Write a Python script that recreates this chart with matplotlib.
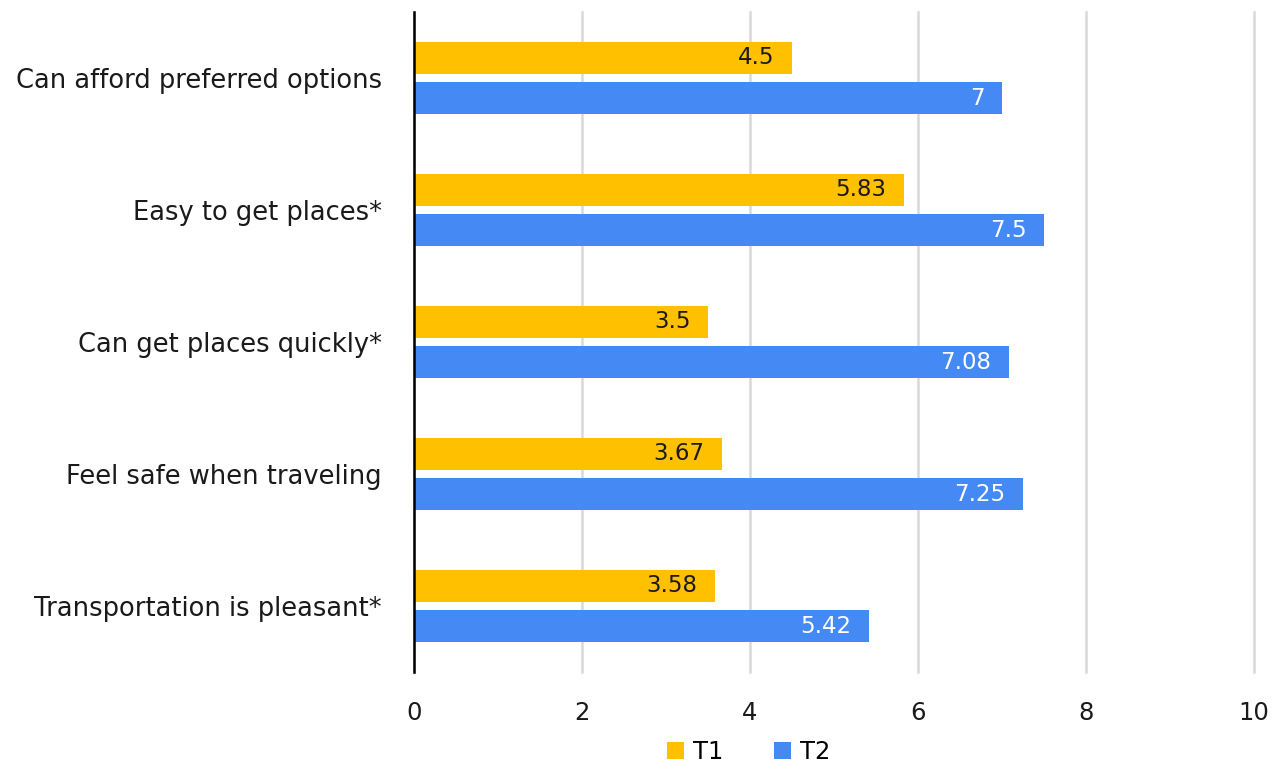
import matplotlib.pyplot as plt
import numpy as np

plt.rcParams['font.family'] = ['DejaVu Sans']

categories = [
    "Can afford preferred options",
    "Easy to get places*",
    "Can get places quickly*",
    "Feel safe when traveling",
    "Transportation is pleasant*",
]
t1_values = [4.5, 5.83, 3.5, 3.67, 3.58]
t2_values = [7, 7.5, 7.08, 7.25, 5.42]
t1_labels = ["4.5", "5.83", "3.5", "3.67", "3.58"]
t2_labels = ["7", "7.5", "7.08", "7.25", "5.42"]

C_T1 = "#FFC000"
C_T2 = "#4589F5"
C_TXT = "#1a1a1a"

fig = plt.figure(figsize=(12.84, 7.67), dpi=100)
ax = fig.add_axes([0.3224, 0.1239, 0.6542, 0.8605])

y = np.arange(len(categories))
h = 0.24
off = 0.152

b1 = ax.barh(y - off, t1_values, height=h, color=C_T1, label="T1", zorder=3)
b2 = ax.barh(y + off, t2_values, height=h, color=C_T2, label="T2", zorder=3)

# value labels sit inside the bar end
for rect, lab in zip(b1, t1_labels):
    ax.text(rect.get_width() - 0.21, rect.get_y() + rect.get_height() / 2, lab,
            ha="right", va="center", fontsize=16.5, color=C_TXT, zorder=4)
for rect, lab in zip(b2, t2_labels):
    ax.text(rect.get_width() - 0.21, rect.get_y() + rect.get_height() / 2, lab,
            ha="right", va="center", fontsize=16.5, color="white", zorder=4)

ax.set_xlim(0, 10)
ax.set_ylim(len(categories) - 0.5, -0.5)
ax.set_xticks(range(0, 11, 2))
ax.set_yticks(y)
ax.set_yticklabels(categories, fontsize=18.5, color=C_TXT)
ax.tick_params(axis="x", length=0, pad=21, labelsize=17.5, labelcolor=C_TXT)
ax.tick_params(axis="y", length=0, pad=23)

ax.grid(axis="x", color="#d9d9d9", linewidth=1.8, zorder=0)
for gl in ax.get_xgridlines():
    gl.set_clip_on(False)
for s in ["top", "right", "bottom"]:
    ax.spines[s].set_visible(False)
ax.spines["left"].set_color("black")
ax.spines["left"].set_linewidth(1.8)
ax.spines["left"].set_zorder(5)

fig.legend(handles=[b1, b2], labels=["T1", "T2"], loc="center",
           bbox_to_anchor=(0.583, 0.02), ncol=2, frameon=False,
           fontsize=17.5, handlelength=0.7, handleheight=0.7,
           handletextpad=0.35, columnspacing=2.1)

fig.savefig("out.png", dpi=100, facecolor="white")
